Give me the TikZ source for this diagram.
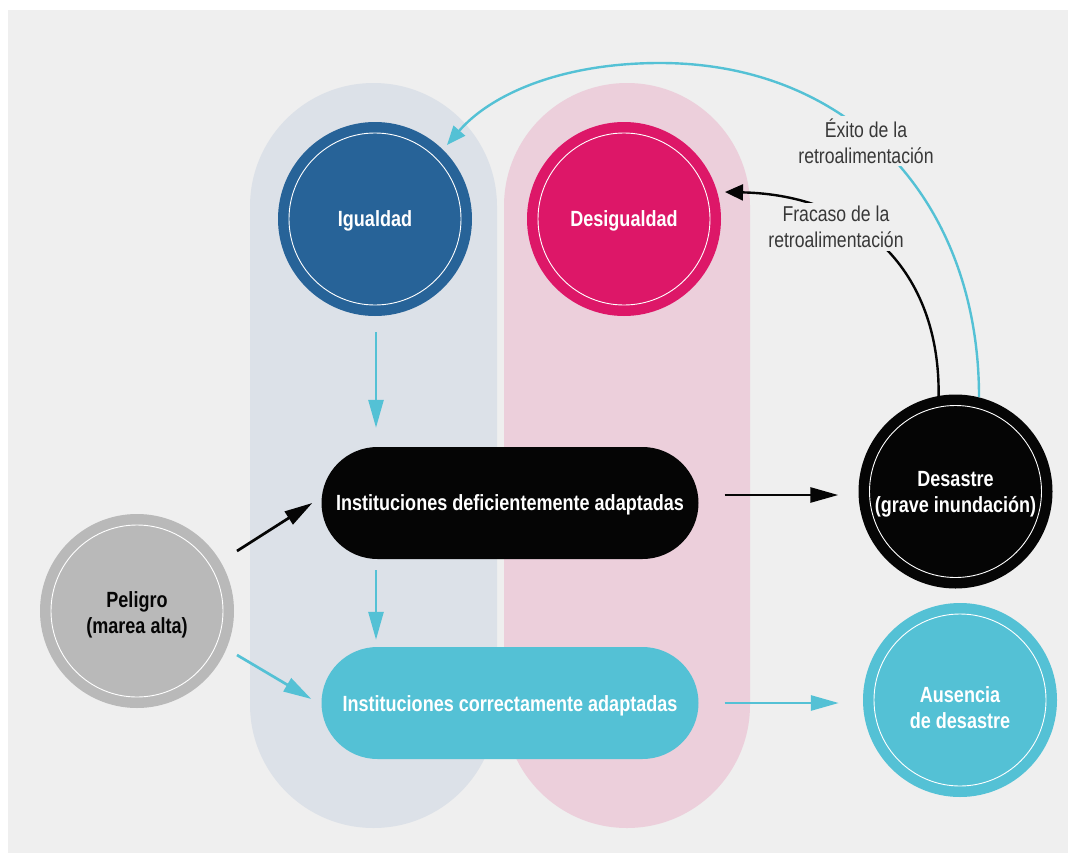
\documentclass[tikz,border=0pt]{standalone}
\usepackage{fontspec}
\setmainfont{Liberation Sans}[FakeStretch=0.82]
\usetikzlibrary{arrows.meta,shapes.misc,calc}
\definecolor{bg}{HTML}{EFEFEF}
\definecolor{bluepill}{HTML}{DCE1E8}
\definecolor{pinkpill}{HTML}{ECCFDB}
\definecolor{igualc}{HTML}{276398}
\definecolor{desigc}{HTML}{DD1768}
\definecolor{cyanc}{HTML}{54C1D5}
\definecolor{grayc}{HTML}{B9B9B9}
\definecolor{blackc}{HTML}{050505}
\definecolor{lblc}{HTML}{383838}
\begin{document}
\begin{tikzpicture}[x=1pt,y=-1pt,
  ring/.style={circle,inner sep=0pt,minimum size=194pt,align=center,
    font=\bfseries\fontsize{22}{26}\selectfont,
    path picture={\draw[white,line width=0.9pt] (path picture bounding box.center) circle[radius=86pt];}},
  pill/.style={rounded rectangle,inner sep=0pt,minimum width=377pt,minimum height=112pt,
    font=\bfseries\fontsize{22}{26}\selectfont,text=white},
  cyanarr/.style={draw=cyanc,line width=2.7pt,-{Triangle[length=28pt,width=15pt]}},
  blackarr/.style={draw=blackc,line width=2.7pt,-{Triangle[length=28pt,width=15pt]}},
  cyancurve/.style={draw=cyanc,line width=2.4pt,-{Triangle[length=19pt,width=15pt]}},
  blackcurve/.style={draw=blackc,line width=2.4pt,-{Triangle[length=18pt,width=16pt]}},
  lbl/.style={fill=bg,inner sep=3pt,align=center,text=lblc,font=\fontsize{21.5}{26}\selectfont}
]
\useasboundingbox (0,0) rectangle (1068,854);
\fill[white] (0,0) rectangle (1068,854);
\fill[bg] (8,10) rectangle (1068,853);

% background pills
\fill[bluepill,rounded corners=123.5pt] (250,83) rectangle (497,828);
\fill[pinkpill,rounded corners=123pt] (504,83) rectangle (750,828);

% nodes
\node[ring,fill=igualc,text=white] (igual) at (375,219) {\rule{0pt}{19pt}Igualdad};
\node[ring,fill=desigc,text=white] (desig) at (624,219) {\rule{0pt}{19pt}Desigualdad};
\node[ring,fill=grayc,text=blackc] (peligro) at (137,611) {\rule{0pt}{24pt}Peligro\\(marea alta)};
\node[ring,fill=blackc,text=white] (desastre) at (955.5,491.5) {\rule{0pt}{20pt}Desastre\\(grave inundación)};
\node[ring,fill=cyanc,text=white] (ausencia) at (960,700) {\rule{0pt}{32pt}Ausencia\\ de desastre};
\node[pill,fill=blackc] (inst1) at (510,503) {\rule{0pt}{20pt}Instituciones deficientemente adaptadas};
\node[pill,fill=cyanc] (inst2) at (510,703) {\rule{0pt}{21pt}Instituciones correctamente adaptadas};

% straight connectors
\draw[cyanarr] ($(igual.south)+(1,16)$) -- ($(inst1.north)+(-134,-19)$);
\draw[cyanarr] ($(inst1.south)+(-134,11)$) -- ($(inst2.north)+(-134,-7)$);
\draw[blackarr] ($(peligro.center)+(100,-60)$) -- ($(inst1.west)+(-9,0)$);
\draw[cyanarr] ($(peligro.center)+(100,44)$) -- ($(inst2.west)+(-10,-4)$);
\draw[blackarr] ($(inst1.east)+(26,-8)$) -- ($(desastre.west)+(-20,3.5)$);
\draw[cyanarr] ($(inst2.east)+(26,0)$) -- ($(ausencia.west)+(-24,3)$);

% feedback curves
\draw[cyancurve] (desastre.76) .. controls (979,200) and (850,63) .. (660,63)
  .. controls (560,63) and (490,95) .. ($(igual.center)+(72,-74)$);
\draw[blackcurve] (desastre.100) .. controls (940,270) and (860,195) .. ($(desig.center)+(101,-27)$);

% labels
\node[lbl] (exito) at (866,141) {Éxito de la\\retroalimentación};
\node[lbl] (fracaso) at (836,227) {Fracaso de la\\retroalimentación};
\end{tikzpicture}
\end{document}
